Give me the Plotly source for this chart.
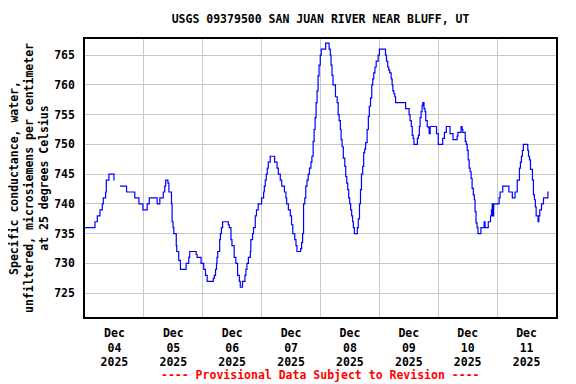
import pandas as pd
import plotly.graph_objects as go

# hours after 2025-12-04 00:00 (local) and specific conductance values (None = gap)
hours = [0, 4.07, 5.02, 6.10, 7.05, 7.46, 8.41, 8.68, 9.76, 11.8, 11.95, 12.0,
         14.24, 16.95, 20.3, 21.97, 23.6, 25.36, 26.2, 29.4, 30.5, 31.9, 32.5, 32.9, 33.8, 34.2,
         35.25, 35.5, 35.9, 36.2, 37.2, 37.4, 38.2, 38.9, 41.2, 42.3, 42.7, 45.3, 45.7, 47.3,
         48.4, 49.1, 49.8, 52.3, 52.7, 53.2, 53.6, 53.8, 54.1, 54.9, 55.2, 55.6, 56.1, 58.4,
         58.8, 59.5, 59.9, 60.2, 60.8, 61.5, 62.2, 62.9, 63.3, 64.2, 65.2, 65.6, 66.0, 66.6,
         67.4, 67.6, 68.3, 68.7, 69.4, 69.9, 70.6, 72.0, 72.8, 73.1, 73.5, 73.9, 74.3, 74.7,
         75.5, 77.3, 78.3, 78.8, 79.6, 80.2, 81.3, 81.9, 82.2, 82.9, 83.7, 84.2, 84.7, 85.5,
         86.0, 86.4, 87.9, 88.3, 88.7, 89.1, 89.6, 90.0, 90.5, 91.0, 91.5, 92.1, 92.5, 93.0,
         93.4, 93.8, 94.2, 94.6, 95.0, 95.4, 95.9, 96.3, 98.1, 99.5, 100.0, 100.3, 100.7,
         101.1, 102.1, 102.8, 103.2, 103.6, 104.1, 104.4, 104.8, 105.3, 105.9, 106.3, 106.7,
         107.1, 107.5, 107.9, 108.3, 108.7, 109.1, 109.4, 109.8, 111.0, 111.4, 111.9, 112.3,
         112.7, 113.2, 113.6, 114.0, 114.4, 115.0, 115.5, 115.9, 116.4, 116.9, 117.3, 117.7,
         118.2, 118.7, 119.5, 120.0, 122.5, 122.9, 123.4, 123.8, 124.2, 124.8, 125.2, 125.5,
         125.9, 126.3, 126.6, 130.7, 132.1, 132.5, 133.0, 133.4, 133.8, 134.1, 135.5, 135.9,
         136.3, 136.6, 137.0, 137.4, 137.7, 138.2, 138.6, 138.9, 139.5, 139.9, 140.3, 140.7,
         143.3, 144.0, 145.8, 146.5, 147.3, 148.8, 150.0, 151.7, 152.0, 153.3, 153.7, 154.0,
         155.0, 155.4, 155.8, 156.2, 156.6, 157.0, 157.4, 157.8, 158.3, 158.7, 159.0, 159.4,
         159.8, 160.2, 161.4, 162.7, 163.1, 164.4, 165.3, 165.7, 166.0, 166.2, 166.6, 168.8,
         169.2, 170.3, 172.8, 174.2, 175.3, 176.2, 177.1, 177.5, 177.9, 178.3, 178.7, 180.5,
         180.8, 181.2, 181.6, 182.4, 182.8, 183.2, 183.6, 183.9, 184.7, 185.0, 185.4, 186.1,
         186.9, 188.7, 189.0]
values = [736, 737, 738, 739, 740, 741, 742, 744, 745, 744, 744, None,
          743, 742, 741, 740, 739, 740, 741, 740, 741, 742, 743, 744, 743.5, 742,
          740, 737, 736, 735, 733, 732, 730.5, 729, 730, 731, 732, 731.5, 731, 730,
          729, 728, 727, 727.5, 728, 729, 730, 731, 732, 734, 735, 736, 737, 736.5,
          736, 734, 733, 733, 731, 730, 728, 727, 726, 727, 728, 729, 730, 731,
          732, 734, 735, 736, 738, 739, 740, 741, 742, 743, 744, 745, 746, 747,
          748, 747, 746, 745, 744, 743, 742, 741, 740, 739, 738, 736.5, 735, 734,
          733, 732, 732.5, 733.5, 735, 740, 741, 743, 744, 745, 746, 747, 748, 750.5,
          752.5, 754.5, 757, 759, 761.5, 763.3, 765, 766, 767, 766, 765, 763.3, 761.6,
          760, 758, 757, 755, 754, 752.5, 750.8, 749.6, 747.7, 746.3, 744.6, 743.5,
          742.4, 741, 740, 739, 738, 737, 736, 735, 736, 737.5, 740, 742.4,
          745, 746.3, 748.6, 749.2, 750.3, 752.5, 754.7, 756.4, 757.8, 760, 761, 762,
          763, 764, 765, 766, 765, 764, 763, 762.5, 762, 761, 760, 759,
          758.5, 758, 757, 756, 755, 754, 753, 751.5, 751, 750, 751, 751.5,
          753, 754.5, 755.5, 756.5, 757, 756, 755.5, 754, 753, 752.8, 751.8, 753,
          751.8, 750, 751, 752, 753, 751.8, 750.8, 751.4, 752, 753, 752.5, 752,
          750.5, 750, 749, 747.4, 746, 745.4, 744.3, 742.6, 741.5, 740.7, 738.7, 736.8,
          736, 735, 736, 737, 736, 737, 738, 739, 740, 738, 740, 741,
          742, 743, 742, 741, 742, 744, 746, 747, 748, 749, 750, 749,
          748, 747.4, 745.8, 744, 741.5, 740.7, 739.5, 738, 737, 738, 739, 740,
          741, 742, 742]

day_dates = ["2025-12-04", "2025-12-05", "2025-12-06", "2025-12-07",
             "2025-12-08", "2025-12-09", "2025-12-10", "2025-12-11"]
day_labels = ["Dec<br>04<br>2025", "Dec<br>05<br>2025", "Dec<br>06<br>2025", "Dec<br>07<br>2025",
              "Dec<br>08<br>2025", "Dec<br>09<br>2025", "Dec<br>10<br>2025", "Dec<br>11<br>2025"]

base = pd.Timestamp("2025-12-04 00:00")
times = [base + pd.Timedelta(hours=h) for h in hours]
tick_pos = [pd.Timestamp(d) + pd.Timedelta(hours=12) for d in day_dates]

FONT = "DejaVu Sans Mono"
FS = 11.5
tfont = dict(family=FONT, size=FS, color="black", weight="bold")

fig = go.Figure()
fig.add_trace(go.Scatter(x=times, y=values, mode="lines", line=dict(color="#0000ff", width=1.2, shape="hv"),
                         connectgaps=False, showlegend=False))

fig.update_layout(
    width=568, height=376,
    margin=dict(l=77, r=20, t=31, b=67, autoexpand=False),
    paper_bgcolor="white", plot_bgcolor="white",
    title=dict(text="USGS 09379500 SAN JUAN RIVER NEAR BLUFF, UT", x=0.5, xref="paper", xanchor="center",
               y=1 - 11 / 376, yanchor="middle", font=tfont),
    xaxis=dict(type="date", range=[base, base + pd.Timedelta(days=8)],
               tickvals=tick_pos, ticktext=day_labels, showgrid=False, ticks="",
               ticklabelstandoff=4,
               minor=dict(dtick=86400000, tick0="2025-12-04", showgrid=True, gridcolor="#c8c8c8", gridwidth=1),
               tickfont=tfont,
               showline=True, linecolor="black", linewidth=1.5, mirror=True, zeroline=False),
    yaxis=dict(range=[721, 767.7], dtick=5, tick0=725, showgrid=True, gridcolor="#c8c8c8", gridwidth=1,
               ticks="", ticklabelstandoff=6, tickfont=tfont,
               showline=True, linecolor="black", linewidth=1.5, mirror=True, zeroline=False),
    annotations=[
        dict(text="Specific conductance, water,<br>unfiltered, microsiemens per centimeter<br>at 25 degrees Celsius",
             xref="paper", yref="paper", x=(21 - 77) / 471, y=0.5, xanchor="center", yanchor="middle",
             textangle=-90, showarrow=False, font=tfont),
        dict(text="---- Provisional Data Subject to Revision ----", xref="paper", yref="paper",
             x=0.5, y=-58 / 278, xanchor="center", yanchor="middle", showarrow=False,
             font=dict(family=FONT, size=FS, color="red", weight="bold")),
    ],
)

fig.write_html("out.html")
